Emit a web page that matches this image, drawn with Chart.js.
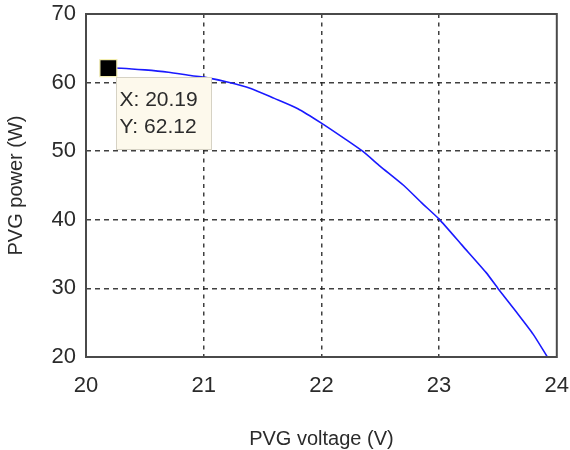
<!DOCTYPE html>
<html>
<head>
<meta charset="utf-8">
<script src="https://cdn.jsdelivr.net/npm/chart.js@4/dist/chart.umd.min.js"></script>
<style>
  html, body { margin: 0; padding: 0; background: #ffffff; }
  #wrap { width: 570px; height: 450px; }
</style>
</head>
<body>
<div id="wrap"><canvas id="pv" width="570" height="450"></canvas></div>
<script>
// PV generator P-V characteristic
const voltage = [20.19, 20.3, 20.5, 20.7, 20.9, 21.0, 21.2, 21.4, 21.6, 21.8, 22.0, 22.2, 22.35, 22.5, 22.7, 22.85, 23.0, 23.2, 23.4, 23.5, 23.65, 23.8, 23.92];
const power   = [62.12, 62.1, 61.85, 61.5, 61.0, 60.8, 60.1, 59.15, 57.7, 56.2, 54.1, 51.8, 50.0, 47.8, 45.0, 42.5, 40.1, 36.2, 32.3, 30.0, 26.7, 23.3, 20.0];

// data cursor
const tipX = 20.19;
const tipY = 62.12;

// axis ranges / ticks
const xTicks = [20, 21, 22, 23, 24];
const yTicks = [20, 30, 40, 50, 60, 70];

const FONT = "'Liberation Sans', Arial, sans-serif";
const TEXT = '#2b2b2b';

const curve = voltage.map((v, i) => ({ x: v, y: power[i] }));

const gridColor = (ctx, ticks) => {
  const v = ctx.tick ? ctx.tick.value : null;
  if (v === ticks[0] || v === ticks[ticks.length - 1]) return 'rgba(0,0,0,0)';
  return 'rgba(30,30,30,0.85)';
};

// axes box + data tip label
const frameAndTip = {
  id: 'frameAndTip',
  afterDatasetsDraw(chart) {
    const { ctx, chartArea: a } = chart;
    ctx.save();
    ctx.strokeStyle = '#4a4a4a';
    ctx.lineWidth = 2;
    ctx.strokeRect(a.left, a.top, a.right - a.left, a.bottom - a.top);
    ctx.restore();
  },
  afterDraw(chart) {
    const { ctx, scales } = chart;
    const px = scales.x.getPixelForValue(tipX);
    const py = scales.y.getPixelForValue(tipY);
    const bx = Math.round(px) + 8.5, by = Math.round(py) + 9.5;
    const bw = 95, bh = 72;
    ctx.save();
    ctx.fillStyle = '#fdf9ec';
    ctx.fillRect(bx, by, bw, bh);
    ctx.strokeStyle = '#d6d2c4';
    ctx.lineWidth = 1;
    ctx.strokeRect(bx, by, bw, bh);
    ctx.fillStyle = TEXT;
    ctx.font = '21px ' + FONT;
    ctx.textBaseline = 'middle';
    ctx.textAlign = 'left';
    ctx.fillText('X: ' + tipX.toFixed(2), bx + 3, by + 23);
    ctx.fillText('Y: ' + tipY.toFixed(2), bx + 3, by + 50);
    ctx.restore();
  }
};

new Chart(document.getElementById('pv'), {
  type: 'scatter',
  data: {
    datasets: [
      {
        data: curve,
        showLine: true,
        borderColor: '#1a1aff',
        borderWidth: 1.6,
        pointRadius: 0,
        tension: 0.2,
        order: 2
      },
      {
        data: [{ x: tipX, y: tipY }],
        pointStyle: 'rect',
        pointRadius: 12,
        backgroundColor: '#000000',
        borderColor: '#f3eeb0',
        borderWidth: 1.2,
        order: 1
      }
    ]
  },
  options: {
    responsive: false,
    animation: false,
    layout: { padding: { left: 0, top: 14, right: 12, bottom: 0 } },
    plugins: { legend: { display: false }, tooltip: { enabled: false } },
    scales: {
      x: {
        type: 'linear',
        min: xTicks[0],
        max: xTicks[xTicks.length - 1],
        afterBuildTicks: s => { s.ticks = xTicks.map(v => ({ value: v })); },
        afterFit: s => { s.height = 93; s.paddingLeft = 0; s.paddingRight = 0; },
        ticks: { color: TEXT, font: { family: FONT, size: 22 }, padding: 16, maxRotation: 0 },
        grid: { color: c => gridColor(c, xTicks), lineWidth: 1.5, drawTicks: false },
        border: { display: false, dash: [4, 4.5] },
        title: {
          display: true,
          text: 'PVG voltage (V)',
          color: TEXT,
          font: { family: FONT, size: 20, lineHeight: 1.1 },
          padding: { top: 0, bottom: 0 }
        }
      },
      y: {
        type: 'linear',
        min: yTicks[0],
        max: yTicks[yTicks.length - 1],
        afterBuildTicks: s => { s.ticks = yTicks.map(v => ({ value: v })); },
        afterFit: s => { s.width = 86; s.paddingTop = 0; s.paddingBottom = 0; },
        ticks: { color: TEXT, font: { family: FONT, size: 22 }, padding: 10 },
        grid: { color: c => gridColor(c, yTicks), lineWidth: 1.5, drawTicks: false },
        border: { display: false, dash: [5, 4] },
        title: {
          display: true,
          text: 'PVG power (W)',
          color: TEXT,
          font: { family: FONT, size: 20, lineHeight: 1.2 },
          padding: { top: 4, bottom: 0 }
        }
      }
    }
  },
  plugins: [frameAndTip]
});
</script>
</body>
</html>
